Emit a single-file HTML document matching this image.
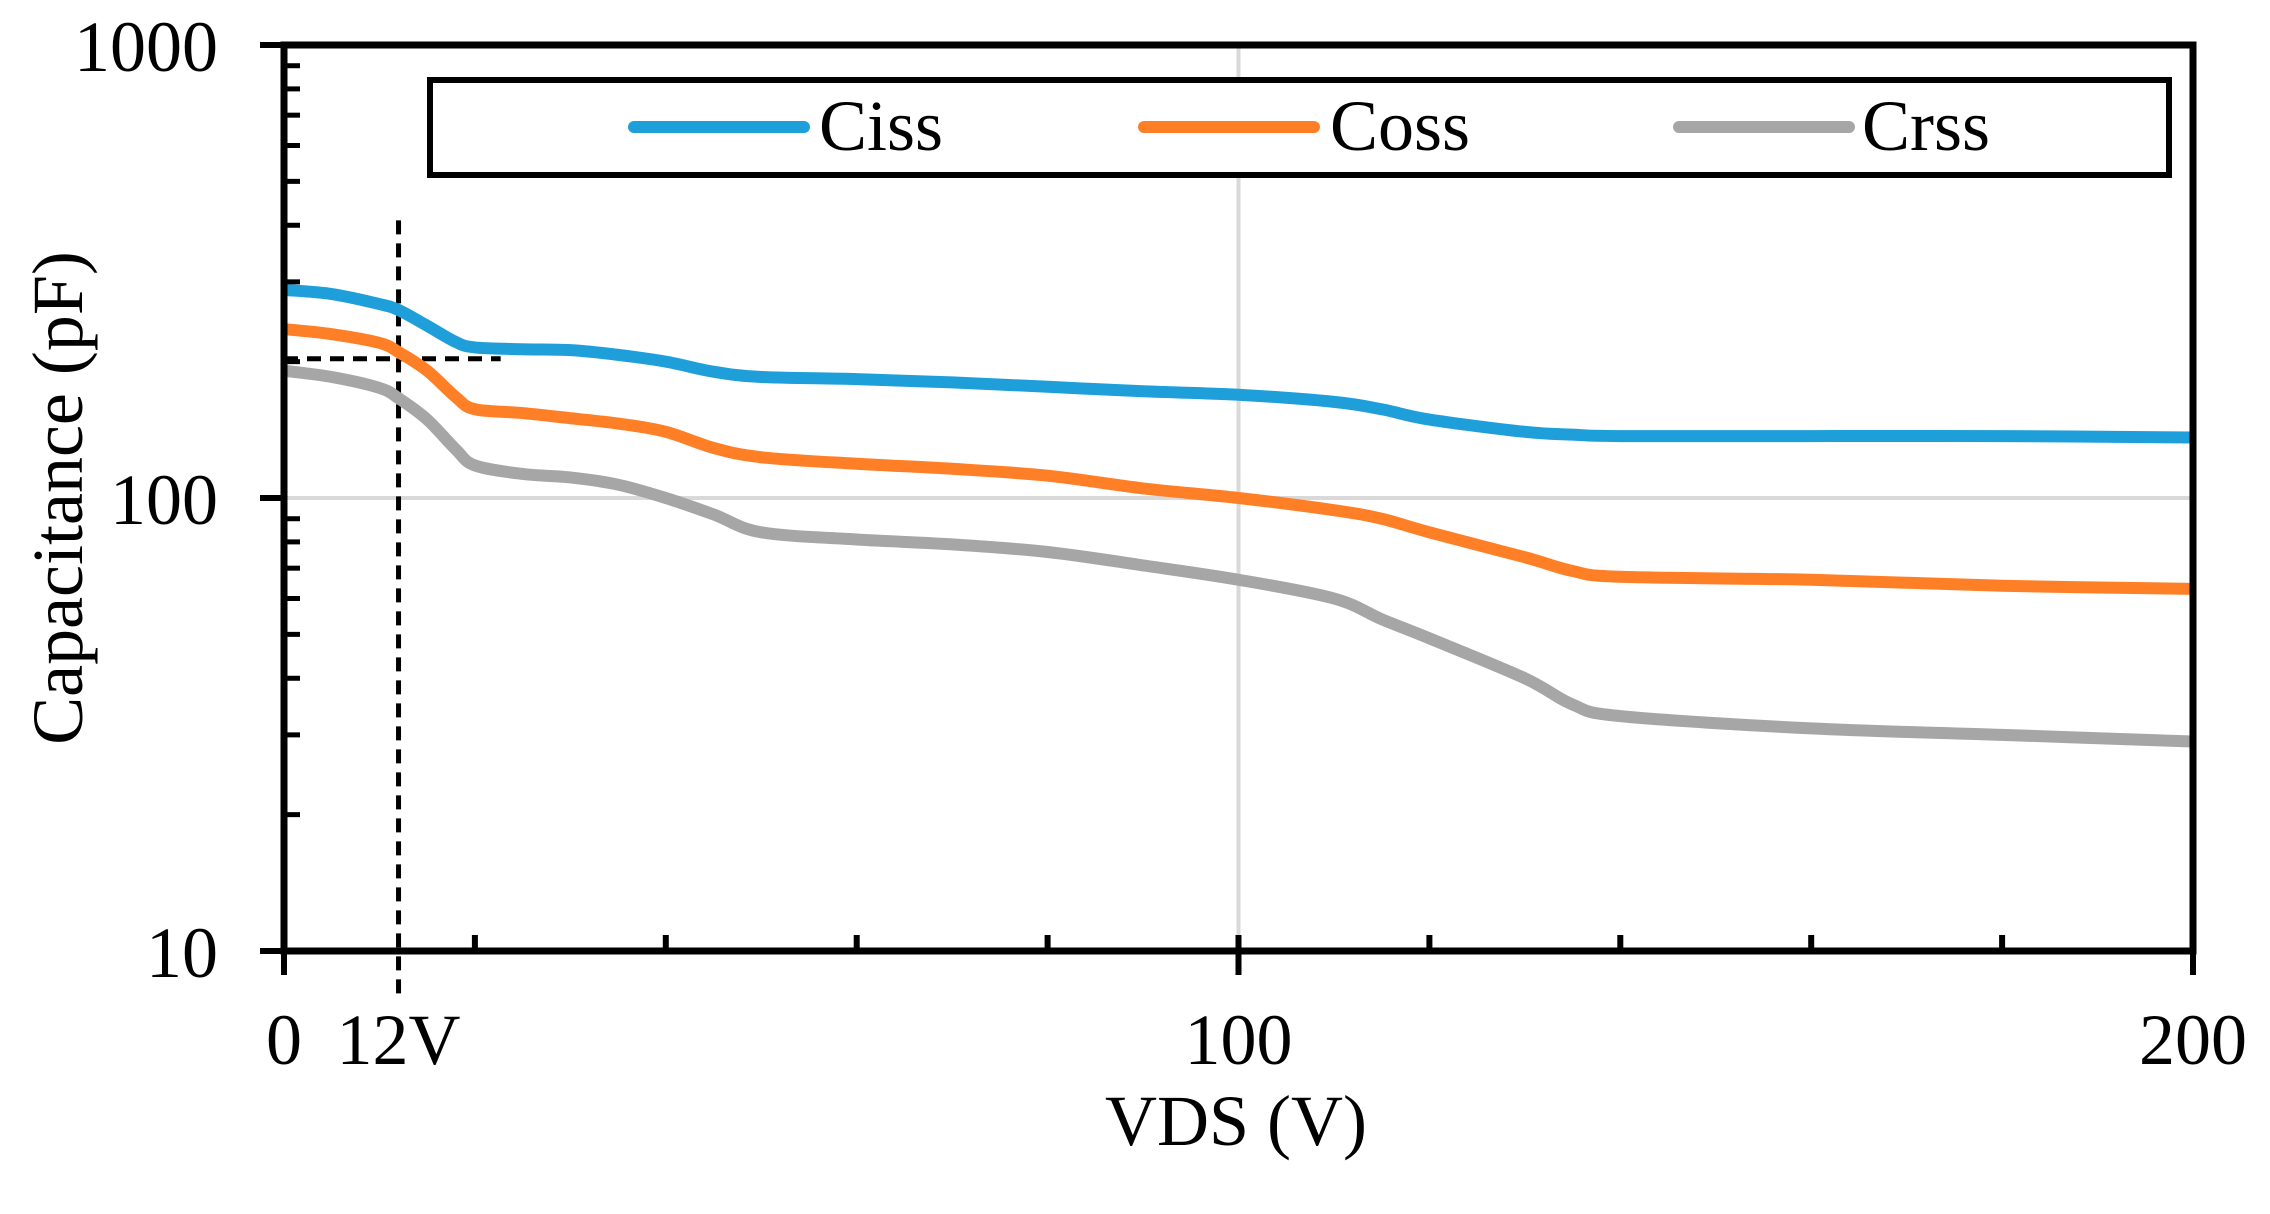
<!DOCTYPE html>
<html><head><meta charset="utf-8"><style>
html,body{margin:0;padding:0;background:#fff;}
svg{display:block;}
text{font-family:"Liberation Serif","Times New Roman","Nimbus Roman","Tinos",serif;fill:#000;}
</style></head><body>
<svg id="chart" width="2270" height="1214" viewBox="0 0 2270 1214" xmlns="http://www.w3.org/2000/svg">
<g id="grid"></g><g id="series"></g><g id="axes"></g><g id="legend"></g>
</svg>
<script>
const vds=[0,5,10,12,15,18,20,25,30,35,40,45,50,60,70,80,90,100,110,115,120,130,135,140,160,180,200];
const ciss=[288,282,268,260,240,221,215,213,212,207,200,190,185,183,180,176,172,169,163,157,149,140,138,137,137,137,136];
const coss=[236,230,220,210,191,167,157,154,150,146,140,129,123,119,116,112,105,100,94,90,84,74,69,67,66,64,63];
const crss=[191,185,175,166,149,128,118,113,111,107,100,92,84,81,79,76,71,66,60,54,49,40,35,33,31,30,29];
const xTicks=[0,20,40,60,80,100,120,140,160,180,200];
const xLabels=[[0,"0"],[12,"12V"],[100,"100"],[200,"200"]];
const yLabels=[10,100,1000];
const NS="http://www.w3.org/2000/svg";
const L=284,R=2193,T=45,B=951;
const X=v=>L+(R-L)*v/200;
const Y=v=>B-(B-T)*(Math.log10(v)-1)/2;
function mk(tag,attrs,parent,txt){const e=document.createElementNS(NS,tag);for(const k in attrs)e.setAttribute(k,attrs[k]);if(txt!==undefined)e.textContent=txt;parent.appendChild(e);return e;}
const grid=document.getElementById('grid'),ser=document.getElementById('series'),ax=document.getElementById('axes'),lg=document.getElementById('legend');
let g1=mk('line',{x1:L,x2:R,y1:Y(100),y2:Y(100),stroke:'#d9d9d9','stroke-width':4},grid);


let g2=mk('line',{x1:X(100),x2:X(100),y1:T,y2:B,stroke:'#d9d9d9','stroke-width':4},grid);


let d1=mk('line',{x1:X(12),x2:X(12),y1:Y(410),y2:B+50,stroke:'#000','stroke-width':5,'stroke-dasharray':'14,9'},grid);


let d2=mk('line',{x1:L,x2:X(22.7),y1:Y(203),y2:Y(203),stroke:'#000','stroke-width':5,'stroke-dasharray':'14,9'},grid);


function path(ys){const p=vds.map((v,i)=>[X(v),Y(ys[i])]);let d='M'+p[0][0]+','+p[0][1];
for(let i=0;i<p.length-1;i++){const p0=p[Math.max(0,i-1)],p1=p[i],p2=p[i+1],p3=p[Math.min(p.length-1,i+2)];
d+=' C'+(p1[0]+(p2[0]-p0[0])/6)+','+(p1[1]+(p2[1]-p0[1])/6)+' '+(p2[0]-(p3[0]-p1[0])/6)+','+(p2[1]-(p3[1]-p1[1])/6)+' '+p2[0]+','+p2[1];}return d;}
const S=[["Ciss",ciss,"#1f9fd9",634,819],["Coss",coss,"#ff7f27",1144,1330],["Crss",crss,"#a6a6a6",1679,1862]];
S.forEach(s=>{let e=mk('path',{d:path(s[1]),fill:'none',stroke:s[2],'stroke-width':12,'stroke-linejoin':'round'},ser);

});
let ab=mk('path',{d:`M${L},${T} H${R} V${B} H${L} Z`,fill:'none',stroke:'#000','stroke-width':7},ax);


xTicks.forEach(v=>{const major=(v===0||v===100||v===200);let t=mk('line',{x1:X(v),x2:X(v),y1:B-16,y2:major?B+24:B,stroke:'#000','stroke-width':6},ax);

});
for(let dec=10;dec<=1000;dec*=10){let t=mk('line',{x1:L-24,x2:L,y1:Y(dec),y2:Y(dec),stroke:'#000','stroke-width':6},ax);


if(dec<1000)for(let m=2;m<=9;m++){let mt=mk('line',{x1:L,x2:L+16,y1:Y(dec*m),y2:Y(dec*m),stroke:'#000','stroke-width':5},ax);

}}
xLabels.forEach(l=>{let t=mk('text',{x:X(l[0]),y:1064,'font-size':72,'text-anchor':'middle'},ax,l[1]);

});
yLabels.forEach(v=>{let t=mk('text',{x:218,y:Y(v)+26,'font-size':72,'text-anchor':'end'},ax,String(v));

});
let xt=mk('text',{x:1236,y:1145,'font-size':72,'text-anchor':'middle'},ax,"VDS (V)");


let yt=mk('text',{x:0,y:0,'font-size':72,'text-anchor':'middle',transform:'translate(82,498) rotate(-90)'},ax,"Capacitance (pF)");


let lb=mk('rect',{x:430,y:80,width:1739,height:95,fill:'#fff',stroke:'#000','stroke-width':6},lg);


S.forEach(s=>{let ln=mk('line',{x1:s[3],x2:s[3]+170,y1:127,y2:127,stroke:s[2],'stroke-width':12,'stroke-linecap':'round'},lg);


let tx=mk('text',{x:s[4],y:150,'font-size':72},lg,s[0]);

});
</script>
</body></html>
